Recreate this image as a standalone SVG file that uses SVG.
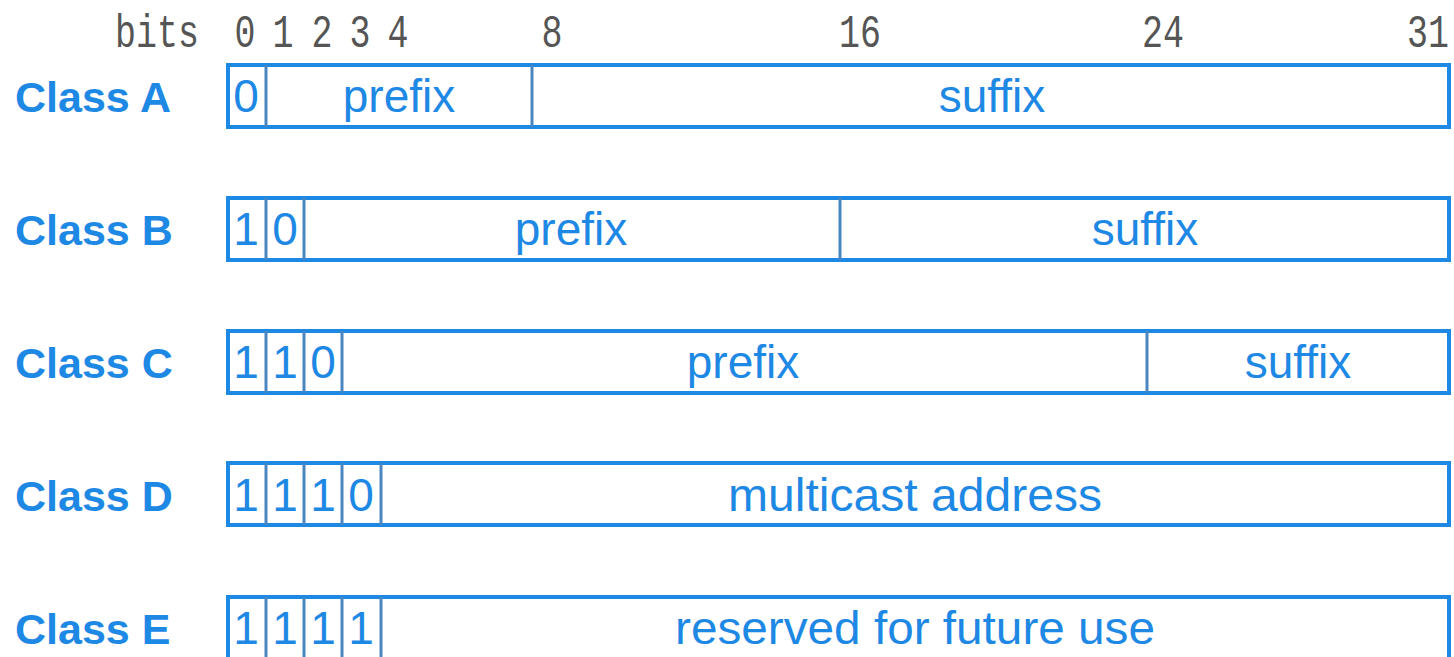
<svg xmlns="http://www.w3.org/2000/svg" width="1454" height="657" viewBox="0 0 1454 657">
<style>
.bits{font-family:"Liberation Mono",monospace;font-size:46px;fill:#555;text-anchor:middle}
.cls{font-family:"Liberation Sans",Arial,sans-serif;font-size:43px;font-weight:bold;fill:#1e88e5}
.f{font-family:"Liberation Sans",Arial,sans-serif;font-size:46px;fill:#1e88e5;text-anchor:middle}
.box{fill:#fff;stroke:#1e88e5;stroke-width:4}
.div{stroke:#4a86c0;stroke-width:3}
</style>
<rect width="1454" height="657" fill="#fff"/>
<g id="scale">
<text class="bits" transform="translate(157,47) scale(0.76,1)">bits</text>
<text class="bits" transform="translate(245,47) scale(0.76,1)">0</text>
<text class="bits" transform="translate(283,47) scale(0.76,1)">1</text>
<text class="bits" transform="translate(322,47) scale(0.76,1)">2</text>
<text class="bits" transform="translate(360,47) scale(0.76,1)">3</text>
<text class="bits" transform="translate(398,47) scale(0.76,1)">4</text>
<text class="bits" transform="translate(552,47) scale(0.76,1)">8</text>
<text class="bits" transform="translate(860,47) scale(0.76,1)">16</text>
<text class="bits" transform="translate(1163,47) scale(0.76,1)">24</text>
<text class="bits" transform="translate(1428,47) scale(0.76,1)">31</text>
</g>
<g id="classA">
<text class="cls" x="15" y="112">Class A</text>
<rect class="box" x="228" y="65" width="1221" height="62"/>
<line class="div" x1="266" y1="65" x2="266" y2="127"/>
<line class="div" x1="532" y1="65" x2="532" y2="127"/>
<text class="f" x="246" y="112">0</text>
<text class="f" x="399" y="112">prefix</text>
<text class="f" x="992" y="112">suffix</text>
</g>
<g id="classB">
<text class="cls" x="15" y="245">Class B</text>
<rect class="box" x="228" y="198" width="1221" height="62"/>
<line class="div" x1="266" y1="198" x2="266" y2="260"/>
<line class="div" x1="304" y1="198" x2="304" y2="260"/>
<line class="div" x1="840" y1="198" x2="840" y2="260"/>
<text class="f" x="246" y="245">1</text>
<text class="f" x="285" y="245">0</text>
<text class="f" x="571" y="245">prefix</text>
<text class="f" x="1145" y="245">suffix</text>
</g>
<g id="classC">
<text class="cls" x="15" y="378">Class C</text>
<rect class="box" x="228" y="331" width="1221" height="62"/>
<line class="div" x1="266" y1="331" x2="266" y2="393"/>
<line class="div" x1="304" y1="331" x2="304" y2="393"/>
<line class="div" x1="342" y1="331" x2="342" y2="393"/>
<line class="div" x1="1147" y1="331" x2="1147" y2="393"/>
<text class="f" x="246" y="378">1</text>
<text class="f" x="285" y="378">1</text>
<text class="f" x="323" y="378">0</text>
<text class="f" x="743" y="378">prefix</text>
<text class="f" x="1298" y="378">suffix</text>
</g>
<g id="classD">
<text class="cls" x="15" y="511">Class D</text>
<rect class="box" x="228" y="463" width="1221" height="62"/>
<line class="div" x1="266" y1="463" x2="266" y2="525"/>
<line class="div" x1="304" y1="463" x2="304" y2="525"/>
<line class="div" x1="342" y1="463" x2="342" y2="525"/>
<line class="div" x1="381" y1="463" x2="381" y2="525"/>
<text class="f" x="246" y="511">1</text>
<text class="f" x="285" y="511">1</text>
<text class="f" x="323" y="511">1</text>
<text class="f" x="361" y="511">0</text>
<text class="f" x="915" y="511" textLength="374" lengthAdjust="spacingAndGlyphs">multicast address</text>
</g>
<g id="classE">
<text class="cls" x="15" y="644">Class E</text>
<rect class="box" x="228" y="597" width="1221" height="64"/>
<line class="div" x1="266" y1="597" x2="266" y2="661"/>
<line class="div" x1="304" y1="597" x2="304" y2="661"/>
<line class="div" x1="342" y1="597" x2="342" y2="661"/>
<line class="div" x1="381" y1="597" x2="381" y2="661"/>
<text class="f" x="246" y="644">1</text>
<text class="f" x="285" y="644">1</text>
<text class="f" x="323" y="644">1</text>
<text class="f" x="361" y="644">1</text>
<text class="f" x="915" y="644" textLength="480" lengthAdjust="spacingAndGlyphs">reserved for future use</text>
</g>
</svg>
